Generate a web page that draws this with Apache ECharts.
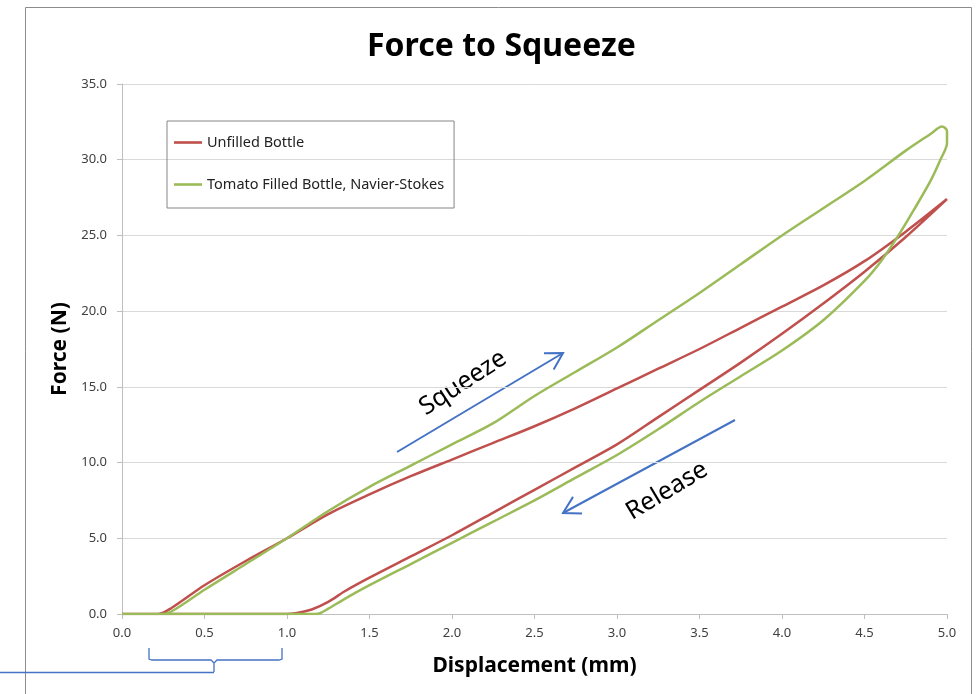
<!DOCTYPE html>
<html>
<head>
<meta charset="utf-8">
<script src="https://cdn.jsdelivr.net/npm/echarts@6/dist/echarts.min.js"></script>
<style>
  html, body { margin: 0; padding: 0; background: #fff; }
  #main { width: 977px; height: 694px; }
</style>
</head>
<body>
<div id="main"></div>
<script>
// ---- data ----
var seriesNames = ['Unfilled Bottle', 'Tomato Filled Bottle, Navier-Stokes'];

// unfilled bottle: squeeze (0 -> 5 mm) then release (5 -> 0 mm)
var unfilledX = [0, 0.22, 0.3, 0.5, 0.75, 1.0, 1.25, 1.5, 1.75, 2.0, 2.25, 2.5, 2.75, 3.0, 3.25, 3.5, 3.75, 4.0, 4.25, 4.5, 4.75, 5.0,
                 4.75, 4.5, 4.25, 4.0, 3.75, 3.5, 3.25, 3.0, 2.75, 2.5, 2.25, 2.0, 1.75, 1.5, 1.35, 1.25, 1.15, 1.05, 1.0, 0];
var unfilledY = [0, 0, 0.4, 1.9, 3.5, 5.0, 6.6, 7.9, 9.1, 10.2, 11.3, 12.4, 13.6, 14.9, 16.2, 17.5, 18.9, 20.3, 21.7, 23.3, 25.25, 27.4,
                 24.9, 22.6, 20.5, 18.5, 16.6, 14.8, 13.0, 11.2, 9.7, 8.2, 6.7, 5.2, 3.8, 2.4, 1.5, 0.8, 0.3, 0.05, 0, 0];

// tomato filled bottle
var tomatoX = [0, 0.25, 0.32, 0.5, 0.75, 1.0, 1.25, 1.5, 1.75, 2.0, 2.25, 2.5, 2.75, 3.0, 3.25, 3.5, 3.75, 4.0, 4.25, 4.5, 4.75, 4.9, 4.97, 5.0, 5.0,
               4.96, 4.9, 4.8, 4.7, 4.6, 4.5, 4.25, 4.0, 3.75, 3.5, 3.25, 3.0, 2.75, 2.5, 2.25, 2.0, 1.75, 1.5, 1.35, 1.25, 1.2, 1.17, 0];
var tomatoY = [0, 0, 0.3, 1.6, 3.3, 5.0, 6.8, 8.4, 9.8, 11.2, 12.6, 14.4, 16.0, 17.6, 19.4, 21.2, 23.1, 25.0, 26.8, 28.6, 30.6, 31.7, 32.2, 31.9, 31.1,
               30.0, 28.6, 26.7, 24.9, 23.3, 22.0, 19.4, 17.4, 15.7, 14.0, 12.2, 10.5, 9.0, 7.5, 6.1, 4.7, 3.3, 1.9, 1.0, 0.35, 0.05, 0, 0];

var xTicks = { min: 0, max: 5, step: 0.5 };
var yTicks = { min: 0, max: 35, step: 5 };

function pairs(xs, ys) {
  var out = [];
  for (var i = 0; i < xs.length; i++) out.push([xs[i], ys[i]]);
  return out;
}

// arrow: shaft + two head strokes at the tip
function arrow(x1, y1, x2, y2) {
  var a = Math.atan2(y1 - y2, x1 - x2);
  var L = 19, s = 0.52;
  var st = { stroke: '#4472C4', lineWidth: 2, fill: null };
  return [
    { type: 'line', shape: { x1: x1, y1: y1, x2: x2, y2: y2 }, style: st },
    { type: 'polyline', shape: { points: [
        [x2 + L * Math.cos(a + s), y2 + L * Math.sin(a + s)],
        [x2, y2],
        [x2 + L * Math.cos(a - s), y2 + L * Math.sin(a - s)]] }, style: st }
  ];
}

var chart = echarts.init(document.getElementById('main'), null, { renderer: 'canvas' });
var labelFont = '"Noto Sans", sans-serif';
var fmt = function (v) { return v.toFixed(1); };

var graphics = [
  // outer chart border
  { type: 'rect', shape: { x: 25.5, y: 7.5, width: 946, height: 700 }, style: { stroke: '#8c8c8c', lineWidth: 1, fill: null }, z: -1 },
  { type: 'text', x: 463, y: 383, rotation: 33 * Math.PI / 180,
    style: { text: 'Squeeze', font: '25px "Noto Sans"', fill: '#000', textAlign: 'center', textVerticalAlign: 'middle' } },
  { type: 'text', x: 667, y: 491, rotation: 31 * Math.PI / 180,
    style: { text: 'Release', font: '25px "Noto Sans"', fill: '#000', textAlign: 'center', textVerticalAlign: 'middle' } },
  // bracket under the x axis
  { type: 'polyline', shape: { points: [[149, 648], [149, 659], [152, 660], [211, 660], [214, 663], [214, 672], [214, 663], [217, 660], [279, 660], [282, 659], [282, 648]] },
    style: { stroke: '#4472C4', lineWidth: 1.3, fill: null } },
  { type: 'line', shape: { x1: 0, y1: 672.5, x2: 214, y2: 672.5 }, style: { stroke: '#4472C4', lineWidth: 1.3 } }
].concat(arrow(397, 452, 563, 353), arrow(735, 420, 563, 513));

var option = {
  animation: false,
  backgroundColor: '#fff',
  title: {
    text: 'Force to Squeeze',
    left: 362, top: 26,
    textStyle: { fontFamily: labelFont, fontWeight: 'bold', fontSize: 32, color: '#000' }
  },
  legend: {
    orient: 'vertical',
    left: 167, top: 121,
    padding: [14, 10, 16, 7],
    itemGap: 27,
    itemWidth: 28, itemHeight: 20,
    icon: 'path://M0,0 L28,0 L28,2.6 L0,2.6 Z',
    symbolKeepAspect: true,
    borderColor: '#868686', borderWidth: 1,
    textStyle: { fontFamily: labelFont, fontSize: 14.5, color: '#222' },
    data: seriesNames
  },
  grid: { left: 122, right: 30, top: 84, bottom: 80, containLabel: false },
  xAxis: {
    type: 'value', min: xTicks.min, max: xTicks.max, interval: xTicks.step,
    name: 'Displacement (mm)', nameLocation: 'middle', nameGap: 42,
    nameTextStyle: { fontFamily: labelFont, fontWeight: 'bold', fontSize: 21, color: '#000' },
    axisLine: { show: true, lineStyle: { color: '#bfbfbf', width: 1 } },
    axisTick: { show: true, length: 5, lineStyle: { color: '#bfbfbf' } },
    axisLabel: { formatter: fmt, fontFamily: labelFont, fontSize: 13, color: '#404040', margin: 13 },
    splitLine: { show: false }
  },
  yAxis: {
    type: 'value', min: yTicks.min, max: yTicks.max, interval: yTicks.step,
    name: 'Force (N)', nameLocation: 'middle', nameGap: 51,
    nameTextStyle: { fontFamily: labelFont, fontWeight: 'bold', fontSize: 21, color: '#000' },
    axisLine: { show: true, lineStyle: { color: '#bfbfbf', width: 1 } },
    axisTick: { show: true, length: 5, lineStyle: { color: '#bfbfbf' } },
    axisLabel: { formatter: fmt, fontFamily: labelFont, fontSize: 13, color: '#404040', margin: 15 },
    splitLine: { show: true, lineStyle: { color: '#d9d9d9', width: 1 } }
  },
  series: [
    {
      name: seriesNames[0], type: 'line', data: pairs(unfilledX, unfilledY),
      symbol: 'none', smooth: 0.3, color: '#C0504D',
      lineStyle: { width: 2.5, color: '#C0504D' }
    },
    {
      name: seriesNames[1], type: 'line', data: pairs(tomatoX, tomatoY),
      symbol: 'none', smooth: 0.3, color: '#9BBB59',
      lineStyle: { width: 2.5, color: '#9BBB59' }
    }
  ],
  graphic: graphics
};

chart.setOption(option);
</script>
</body>
</html>
